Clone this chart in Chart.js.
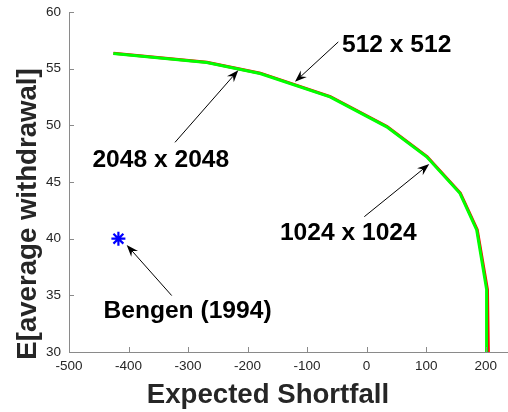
<!DOCTYPE html>
<html>
<head>
<meta charset="utf-8">
<script src="https://cdn.jsdelivr.net/npm/chart.js@4/dist/chart.umd.min.js"></script>
<style>
  html, body { margin: 0; padding: 0; background: #fff; }
  #wrap { position: relative; width: 508px; height: 412px; }
</style>
</head>
<body>
<div id="wrap"><canvas id="c" width="508" height="412"></canvas></div>
<script>
// Efficient frontier: expected shortfall vs. expected average withdrawal
const xTickValues = [-500, -400, -300, -200, -100, 0, 100, 200];
const yTickValues = [30, 35, 40, 45, 50, 55, 60];

// Frontier computed on the coarser grid
const coarseShortfall  = [-425.3, -268.4, -178.6, -61.0, 34.3, 101.5, 157.4, 185.8, 203.0, 204.5];
const coarseWithdrawal = [56.36, 55.57, 54.60, 52.54, 49.90, 47.25, 44.03, 40.80, 35.50, 30.00];

// Frontier computed on the finer grids
const fineShortfall  = [-425.6, -268.7, -179.1, -61.6, 33.7, 100.9, 156.8, 184.9, 201.7, 201.5];
const fineWithdrawal = [56.33, 55.54, 54.57, 52.51, 49.87, 47.22, 44.00, 40.77, 35.48, 30.00];

// Classic 4% rule reference point
const bengenShortfall = [-417];
const bengenWithdrawal = [40.0];

// Callout texts, their anchor (baseline centre) and arrow ends, in data units
const noteText = ['512 x 512', '2048 x 2048', '1024 x 1024', 'Bengen (1994)'];
const noteX = [50.5, -345.8, -30.8, -300.9];
const noteY = [56.45, 46.34, 39.88, 32.99];
const arrowFromX = [-47.6, -321.9, -3.9, -327.5];
const arrowFromY = [57.36, 48.50, 41.94, 34.98];
const arrowToX = [-120.4, -215.6, 105.2, -403.1];
const arrowToY = [53.84, 54.86, 46.58, 39.45];

const toPoints = (xs, ys) => xs.map((x, i) => ({ x: x, y: ys[i] }));

const FONT = '"Liberation Sans", Arial, Helvetica, sans-serif';
const AXIS_GRAY = '#8a8a8a';
const TEXT_DARK = '#262626';

// Axis lines with inward tick marks, drawn from the chart scales
const axesPlugin = {
  id: 'matlabAxes',
  afterDatasetsDraw(chart) {
    const { ctx, chartArea: a, scales } = chart;
    const xs = scales.x, ys = scales.y;
    ctx.save();
    ctx.strokeStyle = AXIS_GRAY;
    ctx.lineWidth = 1;
    ctx.beginPath();
    ctx.moveTo(a.left + 0.5, a.top);
    ctx.lineTo(a.left + 0.5, a.bottom + 0.5);
    ctx.lineTo(a.right, a.bottom + 0.5);
    ctx.stroke();
    ctx.beginPath();
    xTickValues.forEach(v => {
      const px = Math.round(xs.getPixelForValue(v)) + 0.5;
      ctx.moveTo(px, a.bottom);
      ctx.lineTo(px, a.bottom - 5);
    });
    yTickValues.forEach(v => {
      const py = Math.round(ys.getPixelForValue(v)) + 0.5;
      ctx.moveTo(a.left, py);
      ctx.lineTo(a.left + 5, py);
    });
    ctx.stroke();

    // axis titles
    ctx.fillStyle = TEXT_DARK;
    ctx.font = 'bold 27.6px ' + FONT;
    ctx.textAlign = 'center';
    ctx.textBaseline = 'alphabetic';
    ctx.fillText('Expected Shortfall', 268, 403);
    ctx.translate(36, 214);
    ctx.rotate(-Math.PI / 2);
    ctx.fillText('E[average withdrawal]', 0, 0);
    ctx.restore();
  }
};

// Callout labels with arrows
const notesPlugin = {
  id: 'callouts',
  afterDatasetsDraw(chart) {
    const { ctx, scales } = chart;
    const xs = scales.x, ys = scales.y;
    ctx.save();
    ctx.fillStyle = '#000';
    ctx.strokeStyle = '#000';
    ctx.font = 'bold 24.6px ' + FONT;
    ctx.textAlign = 'center';
    ctx.textBaseline = 'alphabetic';
    noteText.forEach((t, i) => {
      ctx.fillText(t, xs.getPixelForValue(noteX[i]), ys.getPixelForValue(noteY[i]));
    });
    for (let i = 0; i < arrowFromX.length; i++) {
      const x0 = xs.getPixelForValue(arrowFromX[i]);
      const y0 = ys.getPixelForValue(arrowFromY[i]);
      const x1 = xs.getPixelForValue(arrowToX[i]);
      const y1 = ys.getPixelForValue(arrowToY[i]);
      const ang = Math.atan2(y1 - y0, x1 - x0);
      const L = 12, W = 4.5, notch = 8;
      const ux = Math.cos(ang), uy = Math.sin(ang);
      const nx = -uy, ny = ux;
      ctx.lineWidth = 1;
      ctx.beginPath();
      ctx.moveTo(x0, y0);
      ctx.lineTo(x1 - ux * notch, y1 - uy * notch);
      ctx.stroke();
      ctx.beginPath();
      ctx.moveTo(x1, y1);
      ctx.lineTo(x1 - ux * L + nx * W, y1 - uy * L + ny * W);
      ctx.lineTo(x1 - ux * notch, y1 - uy * notch);
      ctx.lineTo(x1 - ux * L - nx * W, y1 - uy * L - ny * W);
      ctx.closePath();
      ctx.fill();
    }
    ctx.restore();
  }
};

new Chart(document.getElementById('c'), {
  type: 'scatter',
  data: {
    datasets: [
      {
        label: 'coarse',
        data: toPoints(coarseShortfall, coarseWithdrawal),
        showLine: true,
        borderColor: '#ff0000',
        borderWidth: 3,
        pointRadius: 0,
        tension: 0,
        order: 3
      },
      {
        label: 'fine',
        data: toPoints(fineShortfall, fineWithdrawal),
        showLine: true,
        borderColor: '#00ff00',
        borderWidth: 3,
        pointRadius: 0,
        tension: 0,
        order: 2
      },
      {
        label: 'Bengen (1994)',
        data: toPoints(bengenShortfall, bengenWithdrawal),
        showLine: false,
        pointStyle: 'star',
        pointRadius: 7,
        borderColor: '#0000ff',
        backgroundColor: '#0000ff',
        pointBorderWidth: 2.2,
        order: 1
      }
    ]
  },
  options: {
    responsive: false,
    animation: false,
    layout: { autoPadding: false, padding: { top: 12, right: 0, left: 0, bottom: 0 } },
    plugins: { legend: { display: false }, tooltip: { enabled: false } },
    scales: {
      x: {
        type: 'linear',
        min: -500,
        max: 237.5,
        afterBuildTicks: s => { s.ticks = xTickValues.map(v => ({ value: v })); },
        afterFit: s => { s.height = 60; s.paddingLeft = 0; s.paddingRight = 0; },
        grid: { display: false, drawTicks: false },
        border: { display: false },
        ticks: { color: TEXT_DARK, font: { family: FONT, size: 13.5 }, padding: 6, maxRotation: 0 }
      },
      y: {
        type: 'linear',
        min: 30,
        max: 60,
        afterBuildTicks: s => { s.ticks = yTickValues.map(v => ({ value: v })); },
        afterFit: s => { s.width = 69; s.paddingTop = 0; s.paddingBottom = 0; },
        grid: { display: false, drawTicks: false },
        border: { display: false },
        ticks: { color: TEXT_DARK, font: { family: FONT, size: 13.5 }, padding: 8 }
      }
    }
  },
  plugins: [axesPlugin, notesPlugin]
});
</script>
</body>
</html>
